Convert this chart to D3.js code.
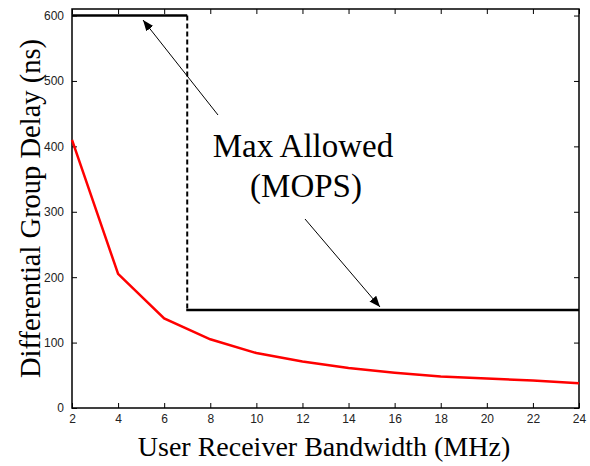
<!DOCTYPE html>
<html>
<head>
<meta charset="utf-8">
<script src="https://cdn.jsdelivr.net/npm/d3@7"></script>
<style>
  html, body { margin: 0; background: #fff; overflow: hidden; }
  svg { display: block; }
  .tick text { font-family: "Liberation Sans", Arial, sans-serif; font-size: 12px; fill: #222; }
</style>
</head>
<body>
<div class="chart"></div>
<script>
// chart data
const bandwidth = [2, 4, 6, 8, 10, 12, 14, 16, 18, 20, 22, 24];
const groupDelay = [410, 205, 137, 105, 84, 71, 61, 54, 48, 45, 42, 38];
const limitX = [2, 7, 7, 24];
const limitY = [600, 600, 150, 150];
const xTicks = [2, 4, 6, 8, 10, 12, 14, 16, 18, 20, 22, 24];
const yTicks = [0, 100, 200, 300, 400, 500, 600];

const margin = { top: 9, right: 11, bottom: 58, left: 72 };
const outerWidth = 590;
const outerHeight = 466;
const innerWidth = outerWidth - margin.left - margin.right;
const innerHeight = outerHeight - margin.top - margin.bottom;

const svg = d3.select('.chart')
  .append('svg')
    .attr('width', outerWidth)
    .attr('height', outerHeight);

svg.append('defs').append('marker')
  .attr('id', 'arrow')
  .attr('viewBox', '0 0 10 10')
  .attr('refX', 10).attr('refY', 5)
  .attr('markerWidth', 11).attr('markerHeight', 11)
  .attr('markerUnits', 'userSpaceOnUse')
  .attr('orient', 'auto')
  .append('path')
    .attr('d', 'M0,1 L10,5 L0,9 Z')
    .attr('fill', '#000');

const chartG = svg.append('g')
  .attr('transform', `translate(${margin.left},${margin.top})`);

const x = d3.scaleLinear().domain([2, 24]).range([0, innerWidth]);
const y = d3.scaleLinear().domain([0, 610]).range([innerHeight, 0]);

// axes with inward ticks on all four sides
chartG.append('g')
  .attr('transform', `translate(0,${innerHeight})`)
  .call(d3.axisBottom(x).tickValues(xTicks).tickSizeInner(-5).tickSizeOuter(0).tickPadding(6))
  .call(g => g.select('.domain').remove());
chartG.append('g')
  .call(d3.axisTop(x).tickValues(xTicks).tickSizeInner(-5).tickSizeOuter(0))
  .call(g => g.select('.domain').remove())
  .call(g => g.selectAll('text').remove());
chartG.append('g')
  .call(d3.axisLeft(y).tickValues(yTicks).tickSizeInner(-5).tickSizeOuter(0).tickPadding(8))
  .call(g => g.select('.domain').remove());
chartG.append('g')
  .attr('transform', `translate(${innerWidth},0)`)
  .call(d3.axisRight(y).tickValues(yTicks).tickSizeInner(-5).tickSizeOuter(0))
  .call(g => g.select('.domain').remove())
  .call(g => g.selectAll('text').remove());

chartG.selectAll('.tick line').attr('stroke', '#000');

chartG.append('rect')
  .attr('width', innerWidth)
  .attr('height', innerHeight)
  .attr('fill', 'none')
  .attr('stroke', '#000')
  .attr('stroke-width', 1.5);

// max allowed limit
const seg = limitX.map((d, i) => [d, limitY[i]]);
chartG.append('line')
  .attr('x1', x(seg[0][0])).attr('y1', y(seg[0][1]))
  .attr('x2', x(seg[1][0])).attr('y2', y(seg[1][1]))
  .attr('stroke', '#000').attr('stroke-width', 2.5);
chartG.append('line')
  .attr('x1', x(seg[1][0])).attr('y1', y(seg[1][1]))
  .attr('x2', x(seg[2][0])).attr('y2', y(seg[2][1]))
  .attr('stroke', '#000').attr('stroke-width', 2)
  .attr('stroke-dasharray', '5,3');
chartG.append('line')
  .attr('x1', x(seg[2][0]) - 1).attr('y1', y(seg[2][1]))
  .attr('x2', x(seg[3][0])).attr('y2', y(seg[3][1]))
  .attr('stroke', '#000').attr('stroke-width', 2.5);

// delay curve
const line = d3.line()
  .x((d, i) => x(bandwidth[i]))
  .y(d => y(d));
chartG.append('path')
  .datum(groupDelay)
  .attr('d', line)
  .attr('fill', 'none')
  .attr('stroke', '#ff0000')
  .attr('stroke-width', 2.5);

// annotation
svg.append('text')
  .attr('x', 303).attr('y', 157)
  .attr('text-anchor', 'middle')
  .style('font-family', '"Liberation Serif", "Times New Roman", serif')
  .style('font-size', '33px')
  .text('Max Allowed');
svg.append('text')
  .attr('x', 306).attr('y', 197)
  .attr('text-anchor', 'middle')
  .style('font-family', '"Liberation Serif", "Times New Roman", serif')
  .style('font-size', '33px')
  .text('(MOPS)');

svg.append('line')
  .attr('x1', 218).attr('y1', 115).attr('x2', 143).attr('y2', 20)
  .attr('stroke', '#000').attr('stroke-width', 1)
  .attr('marker-end', 'url(#arrow)');
svg.append('line')
  .attr('x1', 305).attr('y1', 219).attr('x2', 380).attr('y2', 307)
  .attr('stroke', '#000').attr('stroke-width', 1)
  .attr('marker-end', 'url(#arrow)');

// axis titles
svg.append('text')
  .attr('x', 324).attr('y', 456)
  .attr('text-anchor', 'middle')
  .style('font-family', '"Liberation Serif", "Times New Roman", serif')
  .style('font-size', '28px')
  .text('User Receiver Bandwidth (MHz)');
svg.append('text')
  .attr('transform', `translate(40,${margin.top + innerHeight / 2}) rotate(-90)`)
  .attr('text-anchor', 'middle')
  .style('font-family', '"Liberation Serif", "Times New Roman", serif')
  .style('font-size', '28.5px')
  .text('Differential Group Delay (ns)');
</script>
</body>
</html>
